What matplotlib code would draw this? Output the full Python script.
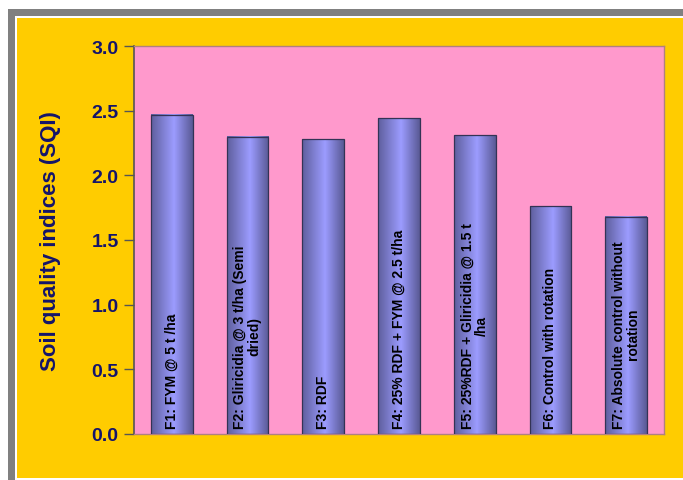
import numpy as np
import matplotlib.pyplot as plt
from matplotlib.colors import LinearSegmentedColormap
from matplotlib.patches import Rectangle

# soil quality index per treatment
labels = ["F1: FYM @ 5 t /ha",
          "F2: Gliricidia @ 3 t/ha (Semi\ndried)",
          "F3: RDF",
          "F4: 25% RDF + FYM @ 2.5 t/ha",
          "F5: 25%RDF + Gliricidia @ 1.5 t\n/ha",
          "F6: Control with rotation",
          "F7: Absolute control without\nrotation"]
sqi = [2.47, 2.30, 2.28, 2.44, 2.31, 1.76, 1.68]
yticks = [0.0, 0.5, 1.0, 1.5, 2.0, 2.5, 3.0]

plt.rcParams['font.family'] = ['Liberation Sans', 'DejaVu Sans']

fig = plt.figure(figsize=(6.83, 4.81), dpi=100)
fig.patch.set_facecolor('white')

# outer frame: grey band, thin white line, gold panel
fig.patches.append(Rectangle((8/683, 0), 1, 1 - 10/481, transform=fig.transFigure,
                             facecolor='#808080', edgecolor='none', zorder=-3))
fig.patches.append(Rectangle((15/683, 0), 1, 1 - 17/481, transform=fig.transFigure,
                             facecolor='white', edgecolor='none', zorder=-2))
fig.patches.append(Rectangle((17/683, 2/481), 1, 1 - 21/481, transform=fig.transFigure,
                             facecolor='#FFCC00', edgecolor='none', zorder=-1))

ax = fig.add_axes([134/683, 1 - 435/481, 530/683, 388/481])
ax.set_facecolor('#FF99CC')

cmap = LinearSegmentedColormap.from_list('cyl', [(0.0, '#5f5f9e'), (0.55, '#9c9cff'), (1.0, '#5a5a96')])
grad = np.linspace(0, 1, 64).reshape(1, -1)

x = np.arange(len(sqi))
w = 0.55
for xi, v, lab in zip(x, sqi, labels):
    ax.imshow(grad, cmap=cmap, aspect='auto', extent=(xi - w/2, xi + w/2, 0, v),
              zorder=2, interpolation='bilinear')
    ax.bar(xi, v, width=w, facecolor='none', edgecolor='#333355', linewidth=0.9, zorder=3)
    ax.text(xi, 0.05, lab, rotation=90, ha='center', va='bottom', multialignment='center',
            fontsize=10, fontweight='bold', color='black', zorder=4, linespacing=1.05)

ax.set_xlim(-0.5, len(sqi) - 0.5)
ax.set_ylim(0, 3.0)
ax.set_yticks(yticks)
ax.set_yticklabels([f"{t:.1f}" for t in yticks], fontsize=14, fontweight='bold', color='#14146b')
ax.set_xticks([])
ax.tick_params(axis='y', length=7, width=1, color='#555555', pad=4, direction='out')
ax.set_ylabel('Soil quality indices (SQI)', fontsize=16, fontweight='bold', color='#14146b', labelpad=22)

for side in ['top', 'right', 'bottom']:
    ax.spines[side].set_color('#b08080')
    ax.spines[side].set_linewidth(1)
ax.spines['left'].set_color('#555555')
ax.spines['left'].set_linewidth(1.2)

fig.savefig('out.png', dpi=100)
